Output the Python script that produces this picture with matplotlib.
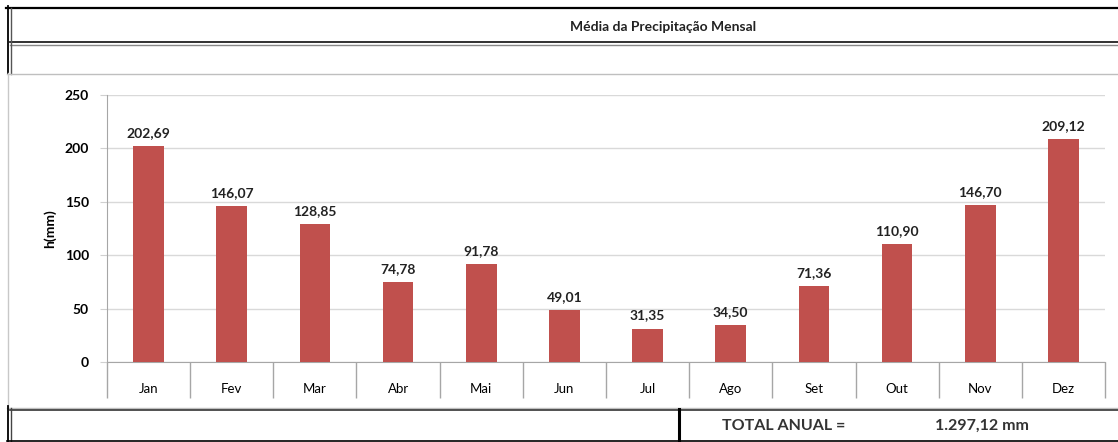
import matplotlib.pyplot as plt
from matplotlib.lines import Line2D

# monthly precipitation data
months = ['Jan', 'Fev', 'Mar', 'Abr', 'Mai', 'Jun', 'Jul', 'Ago', 'Set', 'Out', 'Nov', 'Dez']
precip = [202.69, 146.07, 128.85, 74.78, 91.78, 49.01, 31.35, 34.50, 71.36, 110.90, 146.70, 209.12]
total_label = '1.297,12 mm'

W, H = 1118, 442
plt.rcParams['font.family'] = ['Lato', 'DejaVu Sans']

fig = plt.figure(figsize=(W / 100, H / 100), dpi=100)

# pixel box -> figure fraction
def box(x0, y0, x1, y1):
    return [x0 / W, 1 - y1 / H, (x1 - x0) / W, (y1 - y0) / H]

ax = fig.add_axes(box(107, 95, 1105, 362))

x = list(range(len(months)))
ax.bar(x, precip, width=0.37, color='#C0504D', zorder=3)

for xi, v in zip(x, precip):
    ax.annotate(f'{v:.2f}'.replace('.', ','), (xi, v), xytext=(0, 5),
                textcoords='offset points', ha='center', va='bottom',
                fontsize=10, fontweight='bold', color='#222222')

ax.set_xlim(-0.5, len(months) - 0.5)
ax.set_ylim(0, 250)
ax.set_yticks(range(0, 251, 50))
ax.yaxis.grid(True, color='#D9D9D9', lw=1, zorder=0)
ax.tick_params(axis='y', length=5, color='#D0D0D0', labelsize=10, pad=8)
for lbl in ax.get_yticklabels():
    lbl.set_fontweight('bold')

# category dividers as long major ticks, labels on minor ticks
ax.set_xticks([i - 0.5 for i in range(len(months) + 1)])
ax.set_xticklabels([])
ax.set_xticks(x, minor=True)
ax.set_xticklabels(months, minor=True)
ax.tick_params(axis='x', which='major', length=26, color='#A6A6A6', width=1)
ax.tick_params(axis='x', which='minor', length=0, labelsize=9.5, pad=15)

for side in ['top', 'right']:
    ax.spines[side].set_visible(False)
ax.spines['left'].set_color('#A6A6A6')
ax.spines['bottom'].set_color('#A6A6A6')

ax.set_ylabel('h(mm)', fontsize=10, fontweight='bold', labelpad=6)

# spreadsheet-style frame around the chart
frame = fig.add_axes([0, 0, 1, 1], zorder=-1)
frame.set_xlim(0, W)
frame.set_ylim(H, 0)
frame.axis('off')

def hline(y, x0, x1, c, lw):
    frame.add_line(Line2D([x0, x1], [y, y], color=c, lw=lw))

def vline(xp, y0, y1, c, lw):
    frame.add_line(Line2D([xp, xp], [y0, y1], color=c, lw=lw))

hline(7.5, 6, W, 'black', 1.6)
hline(41.5, 10, W, '#222222', 1.3)
hline(44.5, 10, W, '#888888', 1.0)
vline(7.5, 6, 74, 'black', 1.3)
vline(10.5, 8, 74, '#555555', 1.0)
hline(73.5, 7, W, '#BFBFBF', 1.0)
vline(7.5, 73, 408, '#C8C8C8', 1.0)
hline(407.5, 7, W, '#BFBFBF', 1.0)
hline(410, 10, W, '#333333', 1.2)
vline(7.5, 406, H, 'black', 1.3)
vline(10.5, 408, H, '#444444', 1.0)
hline(440.5, 7, W, 'black', 1.2)
vline(679, 409, H, 'black', 2.2)

frame.text(663, 27, 'Média da Precipitação Mensal', ha='center', va='center',
           fontsize=10, fontweight='bold', color='#222222')
frame.text(722, 426, 'TOTAL ANUAL =', ha='left', va='center', fontsize=11.5,
           fontweight='bold', color='#333333')
frame.text(935, 426, total_label, ha='left', va='center', fontsize=11.5,
           fontweight='bold', color='#333333')

fig.savefig('out.png', dpi=100)
